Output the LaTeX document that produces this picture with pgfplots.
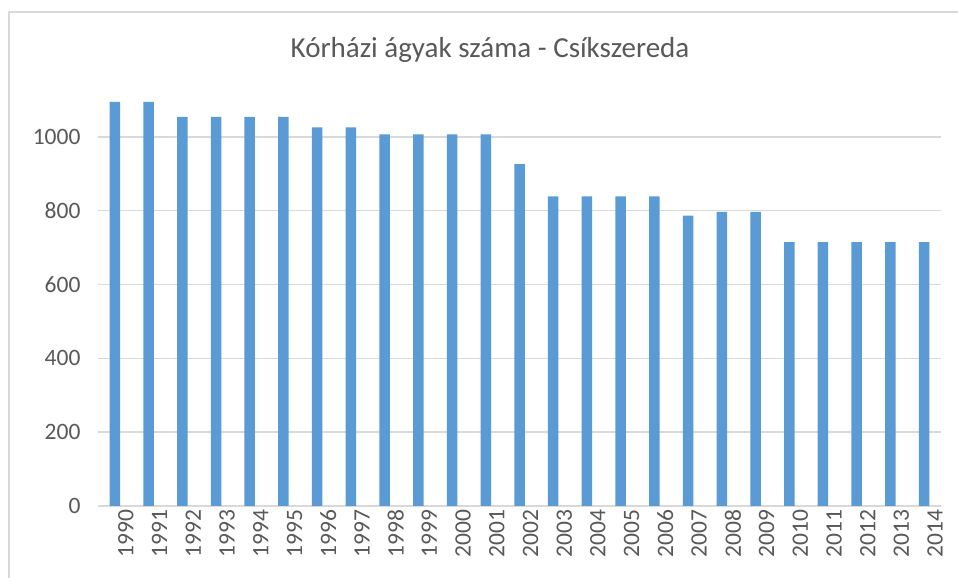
\documentclass[border=0pt]{standalone}
\usepackage{pgfplots}
\pgfplotsset{compat=1.18}
\usepackage{fontspec}
\setmainfont{Carlito}
\definecolor{barblue}{HTML}{5B9BD5}
\definecolor{txtgray}{HTML}{595959}
\definecolor{gridgray}{HTML}{D9D9D9}
\begin{document}
\begin{tikzpicture}[x=1pt,y=1pt]
\useasboundingbox[fill=white] (0,0) rectangle (958,578);
\draw[gridgray, line width=1.2pt] (9,0) -- (9,566) -- (958,566);
\node[text=txtgray, font=\fontsize{29}{33}\selectfont] at (490,528) {Kórházi ágyak száma - Csíkszereda};
\begin{axis}[
  at={(98pt,72pt)}, anchor=south west,
  scale only axis, width=843pt, height=406pt,
  ymin=0, ymax=1100, xmin=-0.5, xmax=24.5,
  ytick={0,200,...,1000},
  xtick={0,...,24},
  xticklabels={1990,1991,1992,1993,1994,1995,1996,1997,1998,1999,2000,2001,2002,2003,2004,2005,2006,2007,2008,2009,2010,2011,2012,2013,2014},
  x tick label style={rotate=90, anchor=east},
  ymajorgrids, grid style={gridgray, line width=1.5pt},
  axis line style={draw=none},
  major tick length=0pt,
  tick label style={text=txtgray, font=\fontsize{23.5}{26}\selectfont},
  /pgf/number format/assume math mode=true,
  /pgf/number format/1000 sep={},
  yticklabel style={xshift=-14pt},
  xticklabel style={yshift=-11pt},
  clip=false,
]
\addplot[ybar, bar width=10.5pt, fill=barblue, draw=none] coordinates {
(0,1095) (1,1095) (2,1054) (3,1054) (4,1054) (5,1054) (6,1026) (7,1026)
(8,1007) (9,1007) (10,1007) (11,1007) (12,926) (13,839) (14,839) (15,839)
(16,839) (17,787) (18,797) (19,797) (20,715) (21,715) (22,715) (23,715) (24,715)
};
\end{axis}
\end{tikzpicture}
\end{document}
